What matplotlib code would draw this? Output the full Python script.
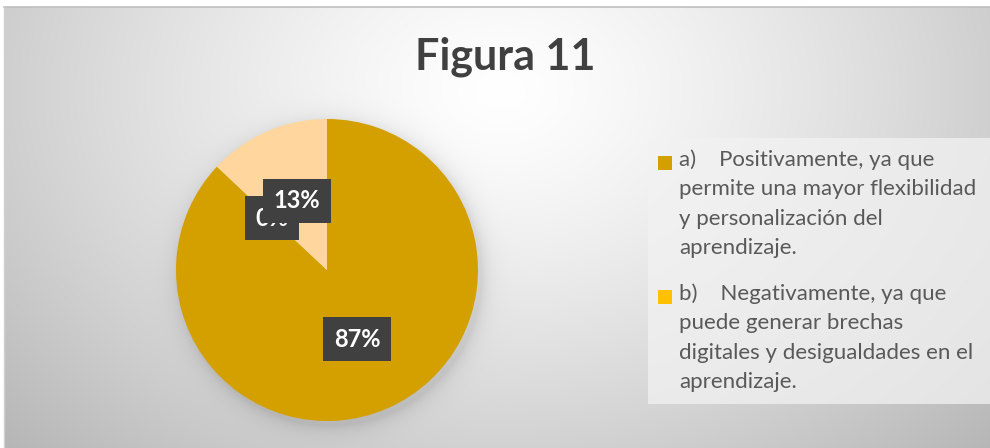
import numpy as np
import matplotlib
matplotlib.use("Agg")
import matplotlib.pyplot as plt
from matplotlib.patches import Rectangle

# ---------- data ----------
categorias = ["a)", "b)", "c)"]
porcentajes = [87, 0, 13]
colores = ["#D4A000", "#FFC000", "#FFD79E"]
etiquetas_leyenda = [
    "a)    Positivamente, ya que\npermite una mayor flexibilidad\ny personalización del\naprendizaje.",
    "b)    Negativamente, ya que\npuede generar brechas\ndigitales y desigualdades en el\naprendizaje.",
]
titulo = "Figura 11"

W, H = 990, 448
plt.rcParams['font.family'] = ['Lato', 'DejaVu Sans']
fig = plt.figure(figsize=(W / 100, H / 100), dpi=100)

# ---------- fondo con degradado ----------
pie_cx, pie_cy, pie_r = 327, 270, 151
yy, xx = np.mgrid[0:H, 0:W]
d = np.hypot((xx - 500) / 560, (yy - 90) / 420)
fondo = 1 - 0.22 * np.clip(d, 0, 1.3) ** 1.3
dp = np.hypot(xx - pie_cx - 3, yy - pie_cy - 4) - pie_r
fondo -= 0.10 * np.exp(-np.clip(dp, 0, None) / 9) * (dp > -10)
fondo = np.clip(fondo, 0, 1)
fondo[:7, :] = 1.0
fondo[:, :4] = 1.0
ax_bg = fig.add_axes([0, 0, 1, 1])
ax_bg.imshow(np.dstack([fondo] * 3), extent=[0, W, H, 0], aspect='auto')
ax_bg.plot([4, W], [7, 7], color="#BFBFBF", lw=1.2)
ax_bg.plot([4, 4], [7, H], color="#D0D0D0", lw=1.0)
ax_bg.set_xlim(0, W)
ax_bg.set_ylim(H, 0)
ax_bg.axis('off')

# ---------- titulo ----------
fig.text(505 / W, 1 - 57 / H, titulo, ha='center', va='center',
         fontsize=31, fontweight='bold', color="#404040")

# ---------- tarta ----------
ax = fig.add_axes([(pie_cx - pie_r) / W, (H - pie_cy - pie_r) / H,
                   2 * pie_r / W, 2 * pie_r / H])
wedges, _ = ax.pie(porcentajes, colors=colores, startangle=90,
                   counterclock=False, radius=1,
                   wedgeprops=dict(linewidth=0))
ax.set_xlim(-1, 1)
ax.set_ylim(-1, 1)
ax.set_aspect('equal')
ax.axis('off')

# etiquetas de datos (la de 0% queda tapada en parte, como en el original)
for i in range(len(porcentajes)):
    w = wedges[i]
    ang = np.deg2rad((w.theta1 + w.theta2) / 2)
    x, y = 0.5 * np.cos(ang), 0.5 * np.sin(ang)
    ax.text(x, y, f"{porcentajes[i]}%", ha='center', va='center',
            fontsize=17, fontweight='bold', color='white', zorder=5 + i,
            bbox=dict(boxstyle='square,pad=0.45', fc='#404040', ec='none'))

# ---------- leyenda ----------
ax_bg.add_patch(Rectangle((648, 138), W - 648, 404 - 138,
                          fc='#F2F2F2', ec='none', alpha=0.75))
y0 = [163, 297]
for i, txt in enumerate(etiquetas_leyenda):
    ax_bg.add_patch(Rectangle((658, y0[i] - 7), 14, 14, fc=colores[i], ec='none'))
    ax_bg.text(679, y0[i] - 14, txt, ha='left', va='top', fontsize=16,
               color='#595959', linespacing=1.6)

fig.savefig("out.png", dpi=100)
